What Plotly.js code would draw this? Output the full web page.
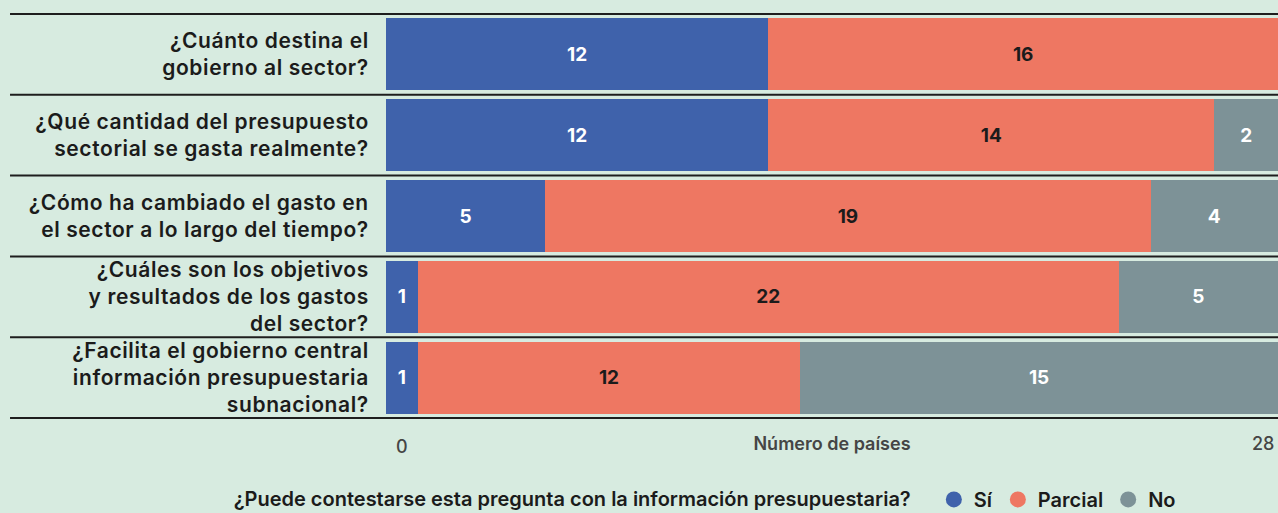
<!DOCTYPE html>
<html><head><meta charset="utf-8">
<script src="https://cdn.plot.ly/plotly-3.0.1.min.js"></script>
<style>
html,body{margin:0;padding:0;background:#d7ebe0;}
#chart{width:1278px;height:513px;}
#chart .ytick text{letter-spacing:0.6px;}
</style>
</head><body><div id="chart"></div>
<script>
const categories = [
  "¿Cuánto destina el<br>gobierno al sector?",
  "¿Qué cantidad del presupuesto<br>sectorial se gasta realmente?",
  "¿Cómo ha cambiado el gasto en<br>el sector a lo largo del tiempo?",
  "¿Cuáles son los objetivos<br>y resultados de los gastos<br>del sector?",
  "¿Facilita el gobierno central<br>información presupuestaria<br>subnacional?"
];
const si = [12, 12, 5, 1, 1];
const parcial = [16, 14, 19, 22, 12];
const no = [0, 2, 4, 5, 15];
const seriesNames = ["Sí", "Parcial", "No"];
const colors = ["#3f62ab", "#ee7762", "#7d9297"];
const textColors = ["#ffffff", "#1b1b1b", "#ffffff"];
const axisTicks = [0, 28];
const axisTitle = "Número de países";
const legendTitle = "¿Puede contestarse esta pregunta con la información presupuestaria?";

const FONT = "Inter, 'Noto Sans', sans-serif";
const series = [si, parcial, no];
const traces = [];
series.forEach((vals, i) => {
  traces.push({
    type: "bar", orientation: "h",
    x: vals, y: categories,
    name: seriesNames[i],
    marker: {color: colors[i]},
    text: vals.map(v => v > 0 ? String(v) : ""),
    texttemplate: "%{text}",
    textposition: "inside", insidetextanchor: "middle",
    textfont: {family: FONT, size: 19, color: textColors[i], weight: 700},
    constraintext: "none",
    showlegend: false, hoverinfo: "x+y"
  });
});
series.forEach((vals, i) => {
  traces.push({
    type: "scatter", mode: "markers",
    x: [null], y: [null],
    name: seriesNames[i],
    marker: {color: colors[i], size: 24, symbol: "circle"},
    showlegend: true, hoverinfo: "skip"
  });
});

const shapes = [];
for (let k = 0; k <= categories.length; k++) {
  shapes.push({type: "line", xref: "paper", yref: "y",
    x0: -0.4215, x1: 1, y0: k - 0.5, y1: k - 0.5,
    line: {color: "#1e1e1e", width: 2}, layer: "above"});
}

const annotations = [
  {x: axisTicks[0], y: 0, xref: "x", yref: "paper", yanchor: "top", xanchor: "left",
   xshift: 8, yshift: -15, text: String(axisTicks[0]), showarrow: false,
   font: {family: FONT, size: 18, color: "#454545", weight: 500}},
  {x: axisTicks[1], y: 0, xref: "x", yref: "paper", yanchor: "top", xanchor: "right",
   xshift: -2, yshift: -12, text: String(axisTicks[1]), showarrow: false,
   font: {family: FONT, size: 18, color: "#454545", weight: 500}}
];

const layout = {
  width: 1278, height: 513,
  paper_bgcolor: "#d7ebe0", plot_bgcolor: "#d7ebe0",
  margin: {l: 386, r: 0, t: 13, b: 94, autoexpand: false},
  barmode: "stack", bargap: 0.11,
  font: {family: FONT, color: "#1b1b1b"},
  xaxis: {range: [0, 28], showgrid: false, zeroline: false, showticklabels: false,
    ticks: "", fixedrange: true, automargin: false,
    title: {text: axisTitle, standoff: 18, font: {family: FONT, size: 18, color: "#454545", weight: 600}}},
  yaxis: {autorange: "reversed", showgrid: false, zeroline: false, ticks: "outside",
    ticklen: 12, tickcolor: "rgba(0,0,0,0)", automargin: false,
    tickfont: {family: FONT, size: 21, color: "#1b1b1b", weight: 600}},
  shapes: shapes,
  annotations: annotations,
  showlegend: true,
  legend: {orientation: "h", x: -0.173, xanchor: "left", y: -0.15, yanchor: "top",
    bgcolor: "rgba(0,0,0,0)", traceorder: "normal",
    title: {text: legendTitle + "&nbsp;&nbsp;&nbsp;", side: "left", font: {family: FONT, size: 20, color: "#1b1b1b", weight: 600}},
    font: {family: FONT, size: 20, color: "#1b1b1b", weight: 600},
    itemsizing: "trace"}
};
Plotly.newPlot("chart", traces, layout, {displayModeBar: false, staticPlot: true});
</script></body></html>
